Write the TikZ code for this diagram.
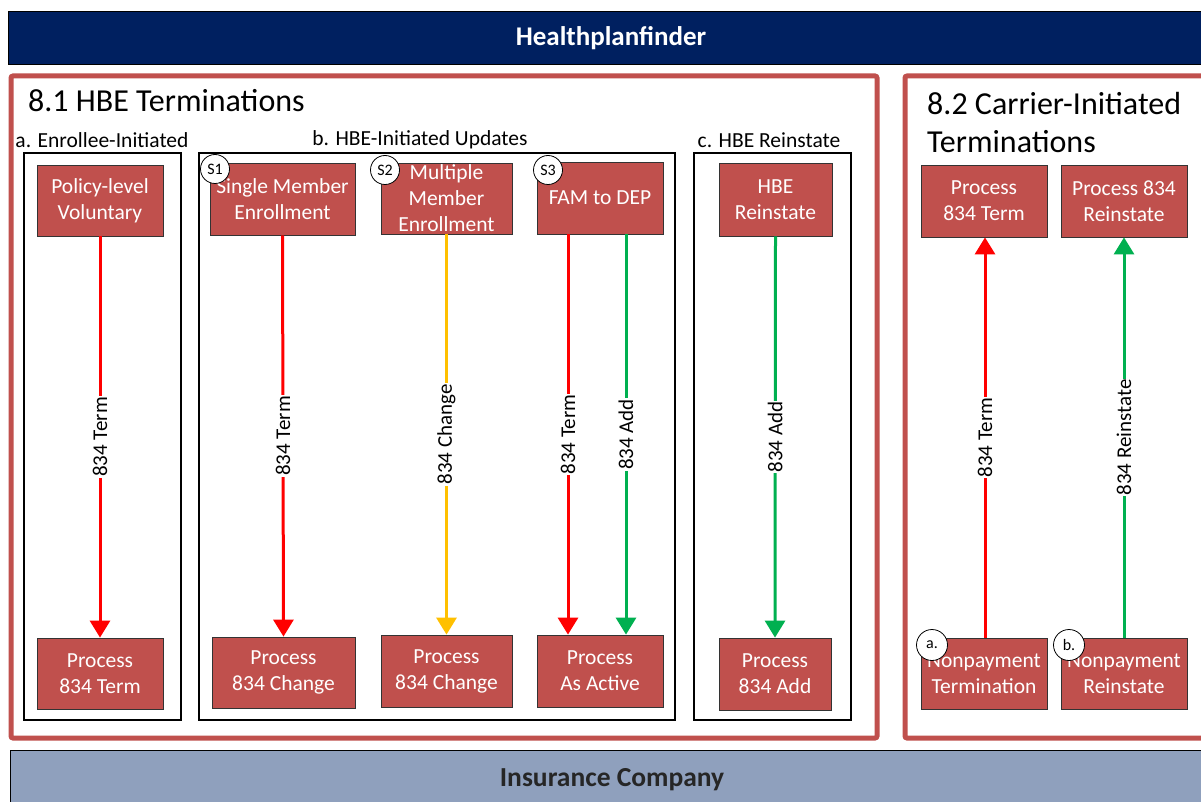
\documentclass[tikz,border=0pt]{standalone}
\usepackage{fontspec}
\setmainfont{Carlito}
\usetikzlibrary{arrows.meta,calc}
\definecolor{hbred}{RGB}{192,80,77}
\definecolor{navy}{RGB}{0,32,96}
\definecolor{insblue}{RGB}{143,160,189}
\definecolor{arrred}{RGB}{255,0,0}
\definecolor{arryel}{RGB}{255,192,0}
\definecolor{arrgrn}{RGB}{0,176,80}
\tikzset{
  proc/.style={draw=black!80, fill=hbred, text=white, align=center, inner sep=0pt,
    line width=0.8pt, font=\fontsize{21.5}{26}\selectfont},
  grp/.style={draw=black, line width=1.5pt, fill=white},
  section/.style={draw=hbred, line width=5pt, fill=white, rounded corners=2pt},
  tag/.style={circle, draw=black, fill=white, line width=0.8pt, minimum size=29pt, inner sep=0pt,
    font=\fontsize{16}{17}\selectfont},
  flow/.style={line width=3pt, -{Triangle[width=20pt,length=17pt]}},
  lbl/.style={fill=white, rotate=90, inner sep=1pt, font=\fontsize{21}{22}\selectfont},
  title/.style={anchor=west, inner sep=0pt, font=\fontsize{32}{38}\selectfont},
  sub/.style={inner sep=0pt, font=\fontsize{21.5}{22}\selectfont},
}
\begin{document}
\begin{tikzpicture}[x=1pt,y=-1pt]
\useasboundingbox (0,0) rectangle (1201,802);
\fill[white] (0,0) rectangle (1201,802);
% header and footer bars
\node[draw=black, line width=1.2pt, fill=navy, minimum width=1210pt, minimum height=53pt, anchor=north west, inner sep=0pt] (hpf) at (8,11) {};
\node[text=white, font=\bfseries\fontsize{27}{28}\selectfont] (hpft) at (611,38) {Healthplanfinder};
\node[draw=black, line width=1.2pt, fill=insblue, minimum width=1210pt, minimum height=60pt, anchor=north west, inner sep=0pt] (ins) at (10,750) {};
\node[text=black!85, font=\bfseries\fontsize{27.5}{28}\selectfont] (inst) at (612,780) {Insurance Company};
% sections
\draw[section] (11,76) rectangle (877,738);
\draw[section] (905,76) rectangle (1215,738);
\node[title] (t81) at (28,101) {8.1 HBE Terminations};
\node[title, align=left] (t82) at (927,123) {8.2 Carrier-Initiated\\Terminations};
% groups
\draw[grp] (24,153) rectangle (181,720);
\draw[grp] (199,153) rectangle (675,720);
\draw[grp] (694,153) rectangle (851,720);
\node[sub] (sa) at (102,140) {a. Enrollee-Initiated};
\node[sub] (sb) at (420,140) {b. HBE-Initiated Updates};
\node[sub] (sc) at (769,140) {c. HBE Reinstate};
% top process boxes
\node[proc, minimum width=126pt, minimum height=71pt] (pol) at (100,200.5) {Policy-level\\Voluntary};
\node[proc, minimum width=145pt, minimum height=72pt] (single) at (282.5,199) {Single Member\\Enrollment};
\node[proc, minimum width=131pt, minimum height=71pt] (multi) at (446.5,198.5) {Multiple\\Member\\Enrollment};
\node[proc, minimum width=126pt, minimum height=72pt] (fam) at (600,198) {FAM to DEP};
\node[proc, minimum width=113pt, minimum height=73pt] (hber) at (775.5,199.5) {HBE\\Reinstate};
\node[proc, minimum width=126pt, minimum height=72pt] (cterm) at (984,201) {Process\\834 Term};
\node[proc, minimum width=126pt, minimum height=72pt] (crein) at (1124,201) {Process 834\\Reinstate};
% bottom process boxes
\node[proc, minimum width=126pt, minimum height=71pt] (pterm) at (100,673.5) {Process\\834 Term};
\node[proc, minimum width=143pt, minimum height=71pt] (pchg1) at (283.5,672.5) {Process\\834 Change};
\node[proc, minimum width=131pt, minimum height=72pt] (pchg2) at (446.5,671) {Process\\834 Change};
\node[proc, minimum width=126pt, minimum height=72pt] (pact) at (600,671) {Process\\As Active};
\node[proc, minimum width=112pt, minimum height=72pt] (padd) at (775,674) {Process\\834 Add};
\node[proc, minimum width=126pt, minimum height=71pt] (npterm) at (984,673.5) {Nonpayment\\Termination};
\node[proc, minimum width=126pt, minimum height=71pt] (nprein) at (1124,673.5) {Nonpayment\\Reinstate};
% tags
\node[tag] (s1) at (215,169) {S1};
\node[tag] (s2) at (385,170) {S2};
\node[tag] (s3) at (548,170) {S3};
\node[tag, minimum size=31pt] (ta) at (932,645) {a.};
\node[tag, minimum size=31pt] (tb) at (1069,645) {b.};
% connectors
\draw[flow, arrred] (pol.south) -- node[lbl, text=black] {834 Term} (pterm.north);
\draw[flow, arrred] (single.south) -- node[lbl, text=black] {834 Term} (pchg1.north);
\draw[flow, arryel] (multi.south) -- node[lbl, text=black] {834 Change} (pchg2.north);
\draw[flow, arrred] ($(fam.south)+(-32,0)$) -- node[lbl, text=black] {834 Term} ($(pact.north)+(-32,0)$);
\draw[flow, arrgrn] ($(fam.south)+(26,0)$) -- node[lbl, text=black] {834 Add} ($(pact.north)+(26,0)$);
\draw[flow, arrgrn] (hber.south) -- node[lbl, text=black] {834 Add} (padd.north);
\draw[flow, arrred] ($(npterm.north)+(1,0)$) -- node[lbl, text=black] {834 Term} ($(cterm.south)+(1,0)$);
\draw[flow, arrgrn] (nprein.north) -- node[lbl, text=black] {834 Reinstate} (crein.south);
\end{tikzpicture}
\end{document}
